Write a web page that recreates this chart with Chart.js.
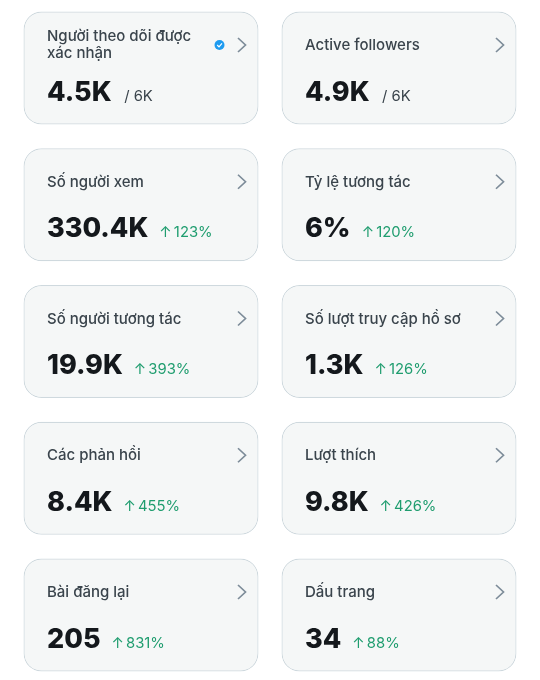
<!DOCTYPE html>
<html lang="vi"><head><meta charset="utf-8">
<style>html,body{margin:0;padding:0;background:#fff}canvas{display:block}</style>
<script src="https://cdn.jsdelivr.net/npm/chart.js@4"></script>
</head><body><canvas id="c" width="540" height="680"></canvas>
<script>
const columns = ['left', 'right'];
const leftTitles = [['Người theo dõi được', 'xác nhận'], ['Số người xem'], ['Số người tương tác'], ['Các phản hồi'], ['Bài đăng lại']];
const rightTitles = [['Active followers'], ['Tỷ lệ tương tác'], ['Số lượt truy cập hồ sơ'], ['Lượt thích'], ['Dấu trang']];
const leftValues = ['4.5K', '330.4K', '19.9K', '8.4K', '205'];
const rightValues = ['4.9K', '6%', '1.3K', '9.8K', '34'];
const leftNotes = ['/ 6K', '↑ 123%', '↑ 393%', '↑ 455%', '↑ 831%'];
const rightNotes = ['/ 6K', '↑ 120%', '↑ 126%', '↑ 426%', '↑ 88%'];

const FONT = 'Inter, "Noto Sans", sans-serif';
const CARD_SPAN = 113 / 136.75;
const rows = leftValues.map((_, i) => i);

const cardText = {
  id: 'cardText',
  afterDatasetsDraw(chart) {
    const ctx = chart.ctx;
    ctx.save();
    ctx.textAlign = 'left';
    ctx.textBaseline = 'alphabetic';
    rows.forEach(r => {
      chart.getDatasetMeta(r).data.forEach((bar, c) => {
        const left = bar.x - bar.width / 2, right = bar.x + bar.width / 2;
        const top = chart.scales.y.getPixelForValue(r);
        const title = (c ? rightTitles : leftTitles)[r];
        const value = (c ? rightValues : leftValues)[r];
        const note = (c ? rightNotes : leftNotes)[r];
        const tx = left + 23.5;

        ctx.fillStyle = '#3a444c';
        ctx.font = '500 15px ' + FONT;
        ctx.wordSpacing = '0px';
        if (title.length > 1) {
          ctx.fillText(title[0], tx, top + 29.5);
          ctx.fillText(title[1], tx, top + 46.5);
        } else {
          ctx.fillText(title[0], tx, top + 38.5);
        }

        ctx.fillStyle = '#14181c';
        ctx.font = '800 27px ' + FONT;
        ctx.fillText(value, tx, top + 89);
        const w = ctx.measureText(value).width;

        const isRatio = note.startsWith('/');
        ctx.fillStyle = isRatio ? '#3a444c' : '#1f9d6f';
        ctx.font = '400 14.8px ' + FONT;
        ctx.wordSpacing = isRatio ? '0px' : '-2px';
        ctx.fillText(note, tx + w + (isRatio ? 12.5 : 11), top + 89);

        // chevron
        ctx.strokeStyle = '#7d8c99';
        ctx.lineWidth = 1.7;
        ctx.beginPath();
        ctx.moveTo(right - 20.5, top + 26.5);
        ctx.lineTo(right - 13, top + 33.5);
        ctx.lineTo(right - 20.5, top + 40.5);
        ctx.stroke();

        // verified badge
        if (c === 0 && r === 0) {
          ctx.fillStyle = '#1d9bf0';
          ctx.beginPath();
          ctx.arc(left + 196, top + 33.5, 5, 0, Math.PI * 2);
          ctx.fill();
          ctx.strokeStyle = '#fff';
          ctx.lineWidth = 1.2;
          ctx.beginPath();
          ctx.moveTo(left + 193.7, top + 33.5);
          ctx.lineTo(left + 195.5, top + 35.3);
          ctx.lineTo(left + 198.5, top + 31.9);
          ctx.stroke();
        }
      });
    });
    ctx.restore();
  }
};

new Chart(document.getElementById('c'), {
  type: 'bar',
  plugins: [cardText],
  data: {
    labels: columns,
    datasets: rows.map(r => ({
      label: 'row ' + r,
      data: columns.map(() => [r, r + CARD_SPAN]),
      backgroundColor: '#f5f7f7',
      borderColor: '#cfd9de',
      borderWidth: 1.2,
      borderRadius: 18,
      borderSkipped: false,
      grouped: false,
      categoryPercentage: 1,
      barPercentage: 235 / 258
    }))
  },
  options: {
    responsive: false,
    animation: false,
    events: [],
    layout: { padding: { left: 12, right: 12, top: 0, bottom: 0 } },
    plugins: { legend: { display: false }, tooltip: { enabled: false } },
    scales: {
      x: { display: false },
      y: { display: false, reverse: true, min: -11.5 / 136.75, max: 668.5 / 136.75 }
    }
  }
});
</script></body></html>
